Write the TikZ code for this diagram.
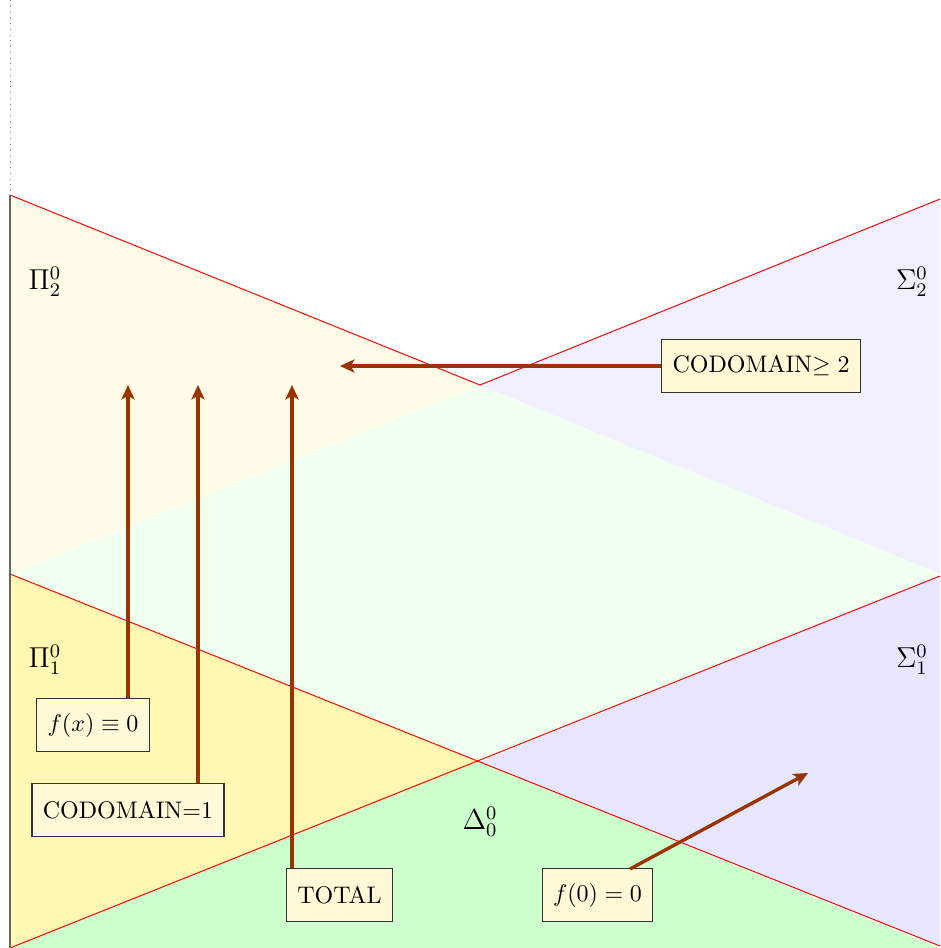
\documentclass[tikz,border=0pt]{standalone}
\usetikzlibrary{arrows.meta}
\definecolor{piTwo}{HTML}{FFFBE6}
\definecolor{sigTwo}{HTML}{F0F0FF}
\definecolor{delTwo}{HTML}{F0FFF0}
\definecolor{piOne}{HTML}{FFF7B2}
\definecolor{sigOne}{HTML}{E6E6FF}
\definecolor{delZero}{HTML}{CCFFCC}
\definecolor{boxfill}{HTML}{FFF9D8}
\definecolor{arrcol}{HTML}{993300}
\tikzset{
  propbox/.style={draw=black!80, fill=boxfill, inner xsep=4.5pt, minimum height=22pt, line width=0.5pt},
  arr/.style={draw=arrcol, line width=1.4pt, -{Stealth[length=6pt,width=5.5pt,inset=1.5pt]}},
  redline/.style={draw=red, line width=0.4pt},
  lbl/.style={inner sep=0pt, font=\large}
}
\begin{document}
\begin{tikzpicture}[x=0.4167pt,y=-0.4167pt]
\useasboundingbox (0,0) rectangle (940,948);
% regions
\fill[piTwo] (10,195) -- (480,385) -- (10,574) -- cycle;
\fill[sigTwo] (940,199) -- (480,385) -- (940,574) -- cycle;
\fill[delTwo] (10,574) -- (480,385) -- (940,574) -- (480,762) -- cycle;
\fill[piOne] (10,574) -- (480,762) -- (10,948) -- cycle;
\fill[sigOne] (940,576) -- (480,762) -- (940,946) -- cycle;
\fill[delZero] (10,948) -- (480,762) -- (940,948) -- cycle;
% red lines
\draw[redline] (10,195) -- (480,385) -- (940,199);
\draw[redline] (10,574) -- (940,946);
\draw[redline] (10,948) -- (940,576);
% left axis
\draw[gray, dotted, line width=0.4pt] (10,0) -- (10,195);
\draw[gray!80!black, line width=0.8pt] (10,195) -- (10,948);
% labels
\node[lbl] (p2) at (45,282) {$\Pi^0_2$};
\node[lbl] (s2) at (912,282) {$\Sigma^0_2$};
\node[lbl] (p1) at (45,660) {$\Pi^0_1$};
\node[lbl] (s1) at (912,660) {$\Sigma^0_1$};
\node[lbl] (d0) at (480,822) {$\Delta^0_0$};
% boxes
\node[propbox] (b1) at (93,725) {$f(x)\equiv 0$};
\node[propbox] (b2) at (128,810) {CODOMAIN=1};
\node[propbox] (b3) at (339.5,895) {TOTAL};
\node[propbox] (b4) at (761,366) {CODOMAIN$\geq 2$};
\node[propbox] (b5) at (597.5,895) {$f(0)=0$};
% arrow ends
\coordinate (e1) at (128,385);
\coordinate (e2) at (198,385);
\coordinate (e3) at (292,385);
\coordinate (e4) at (340,366);
\coordinate (e5) at (808,773);
\coordinate (s5) at (630,869);
% arrows
\draw[arr] (b1.north -| e1) -- (e1);
\draw[arr] (b2.north -| e2) -- (e2);
\draw[arr] (b3.north -| e3) -- (e3);
\draw[arr] (b4.west) -- (e4);
\draw[arr] (s5) -- (e5);
\end{tikzpicture}
\end{document}
